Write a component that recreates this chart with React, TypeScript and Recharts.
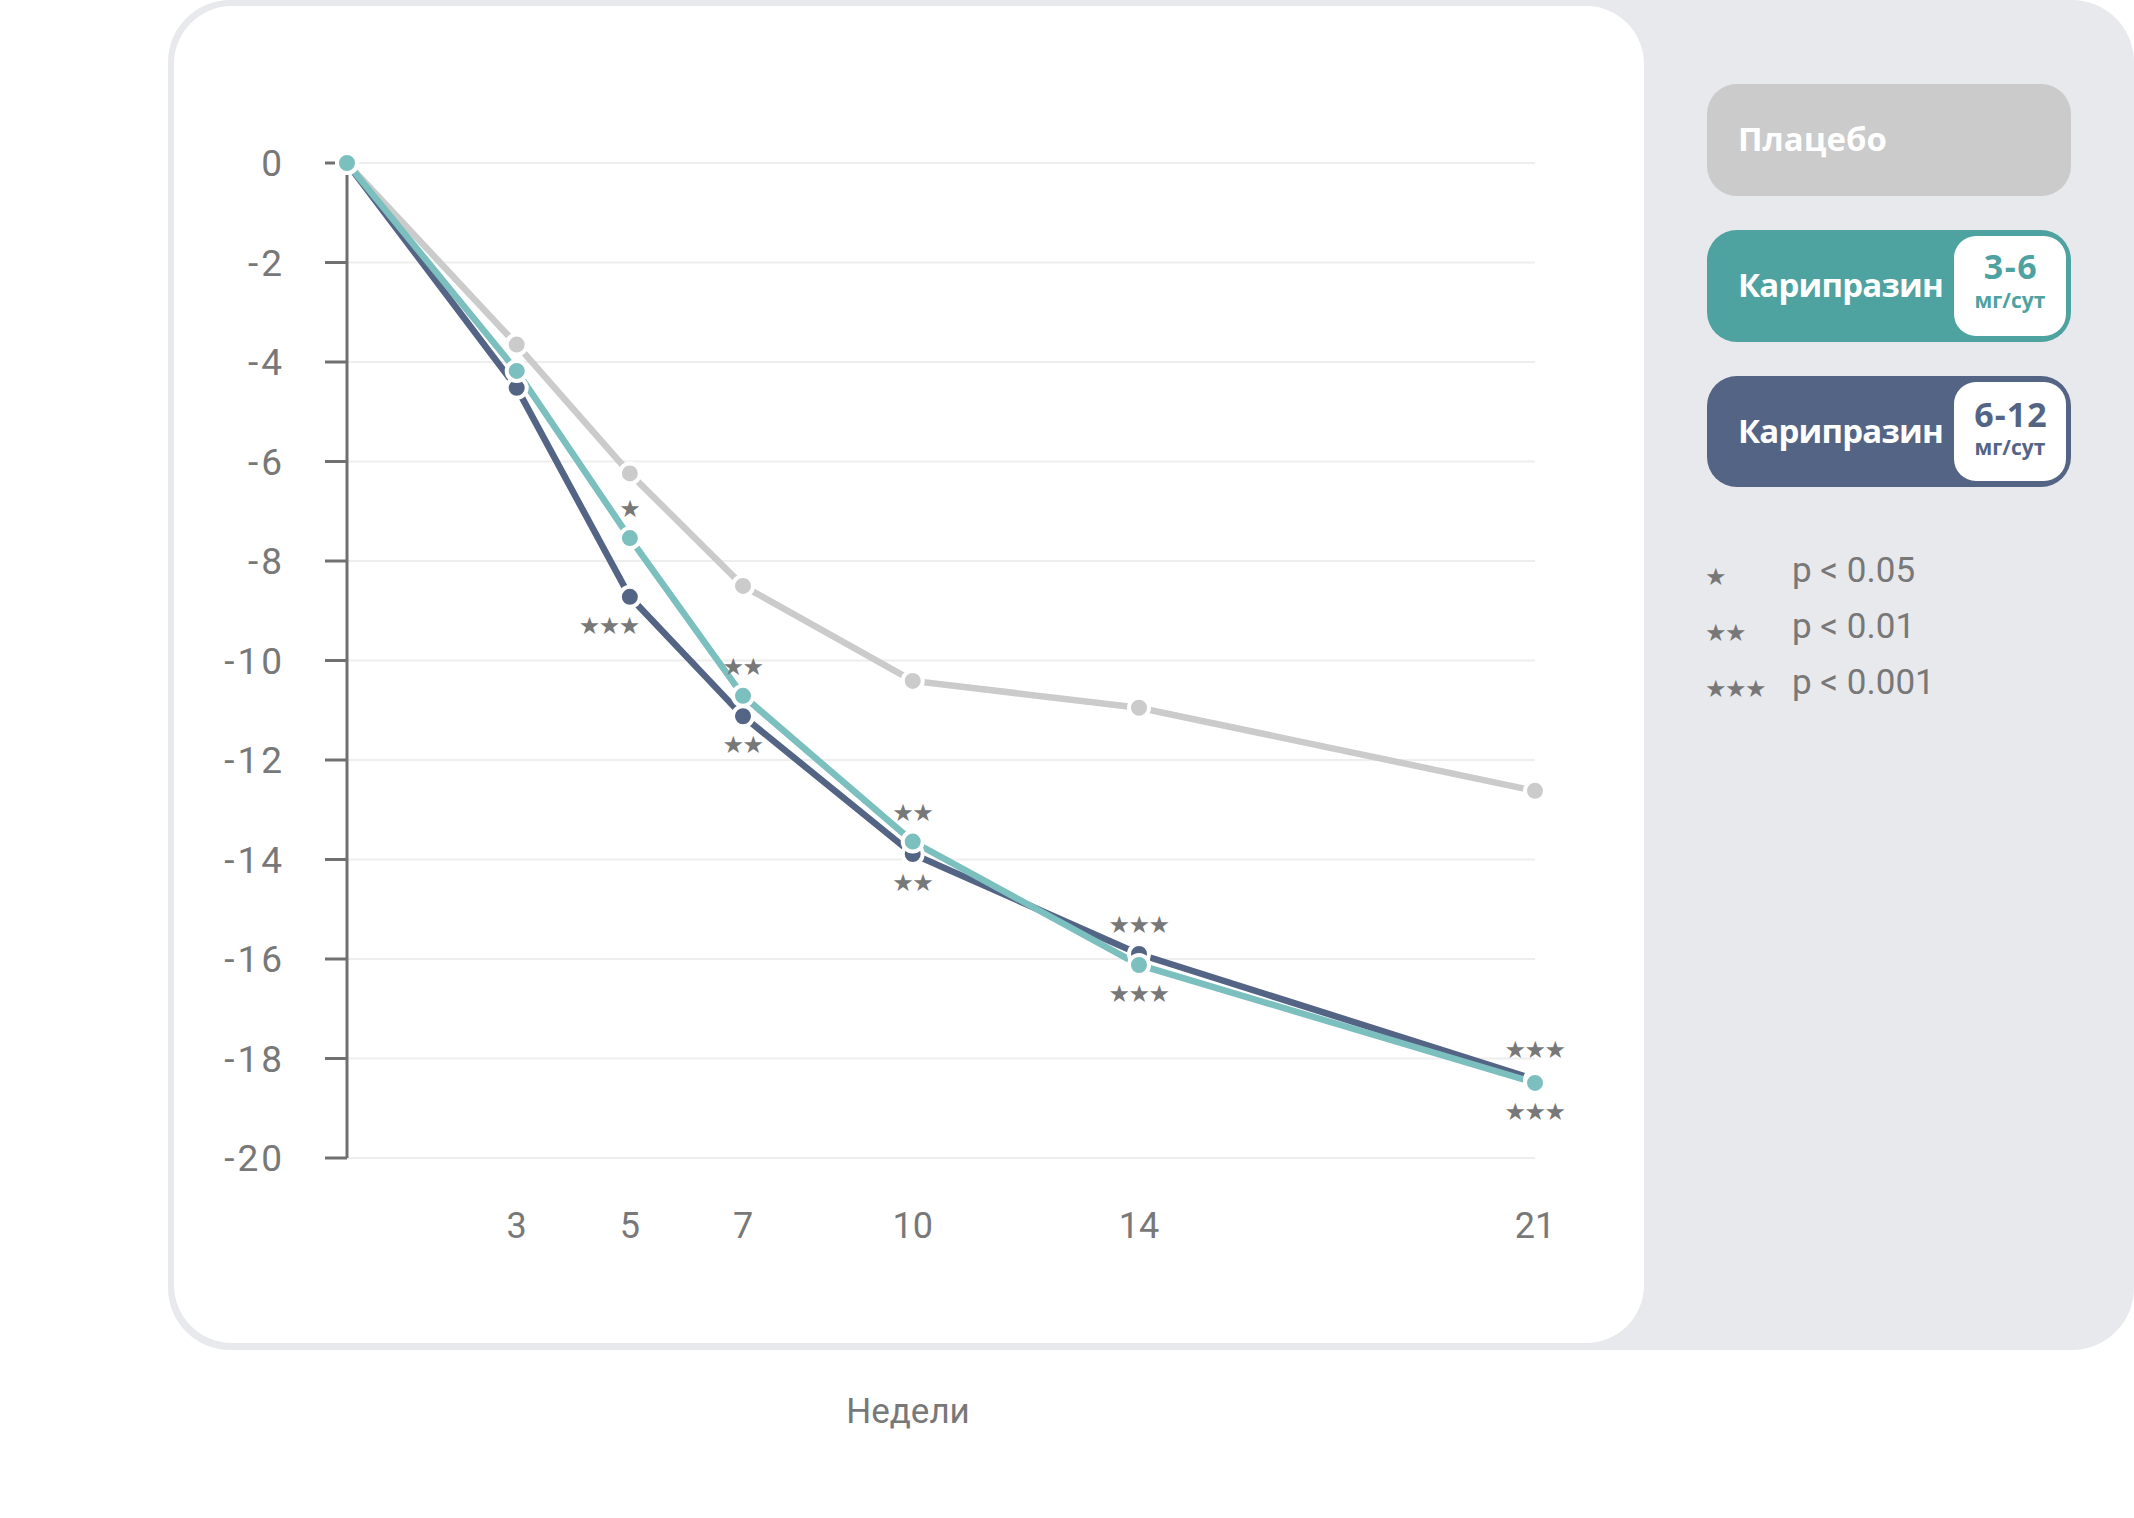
import React from 'react';
import { LineChart, Line, XAxis, YAxis, CartesianGrid } from 'recharts';

// ---- data ----
const weeks = [0, 3, 5, 7, 10, 14, 21];
const placebo = [0, -3.65, -6.24, -8.5, -10.41, -10.95, -12.62];
const cariprazine36 = [0, -4.18, -7.54, -10.71, -13.64, -16.12, -18.49];
const cariprazine612 = [0, -4.52, -8.72, -11.12, -13.89, -15.9, -18.42];
const sig36 = ['', '', '★', '★★', '★★', '★★★', '★★★'];
const sig612 = ['', '', '★★★', '★★', '★★', '★★★', '★★★'];
// -1 = above the point, 1 = below
const sig36Side = [0, 0, -1, -1, -1, 1, 1];
const sig612Side = [0, 0, 1, 1, 1, -1, -1];
const sig612Align = ['middle', 'middle', 'end', 'middle', 'middle', 'middle', 'middle'];
const sig36Align = ['middle', 'middle', 'middle', 'middle', 'middle', 'middle', 'middle'];
const xTicks = [3, 5, 7, 10, 14, 21];
const yTicks = [0, -2, -4, -6, -8, -10, -12, -14, -16, -18, -20];
const xLabel = 'Недели';
const legendPlacebo = 'Плацебо';
const legendDrug = 'Карипразин';
const dose36 = '3-6';
const dose612 = '6-12';
const doseUnit = 'мг/сут';
const pStars = ['★', '★★', '★★★'];
const pTexts = ['p < 0.05', 'p < 0.01', 'p < 0.001'];

const data = weeks.map((w, i) => ({
  week: w,
  placebo: placebo[i],
  c36: cariprazine36[i],
  c612: cariprazine612[i],
}));

const C_PLACEBO = '#cbcbcb';
const C_TEAL = '#7bbfbe';
const C_TEAL_DARK = '#4ea29f';
const C_NAVY = '#546485';
const C_TEXT = '#787878';
const C_AXIS = '#707070';

const STAR_FS = 24;
const STAR_LS = -1.5;

const makeDot = (color: string, stars?: string[], sides?: number[], aligns?: string[]) => (p: any) => {
  const { cx, cy, index } = p;
  const s = stars ? stars[index] : '';
  const side = sides ? sides[index] : 0;
  const align = aligns ? aligns[index] : 'middle';
  return (
    <g key={`d-${color}-${index}`}>
      <circle cx={cx} cy={cy} r={10} fill={color} stroke="#ffffff" strokeWidth={4} />
      {s ? (
        <text
          x={cx + (align === 'end' ? 9 : -0.5)}
          y={cy + side * 29}
          textAnchor={align as any}
          dominantBaseline="central"
          fontFamily="DejaVu Sans"
          fontSize={STAR_FS}
          letterSpacing={STAR_LS}
          fill={C_TEXT}
        >
          {s}
        </text>
      ) : null}
    </g>
  );
};

const yTickStyle = { fontFamily: 'Roboto', fontWeight: 400, fontSize: 37, fill: C_TEXT, letterSpacing: 3 };
const xTickStyle = { fontFamily: 'Roboto', fontWeight: 400, fontSize: 36, fill: C_TEXT };

export default function App() {
  return (
    <div style={{ position: 'absolute', left: 0, top: 0, width: 2134, height: 1518, background: '#ffffff', overflow: 'hidden' }}>
      <div style={{ position: 'absolute', left: 168, top: 0, width: 1966, height: 1350, borderRadius: 62, background: '#e8e9ed' }} />
      <div style={{ position: 'absolute', left: 174, top: 6, width: 1470, height: 1337, borderRadius: 58, background: '#ffffff' }} />
      <div style={{ position: 'absolute', left: 0, top: 0 }}>
        <LineChart width={2134} height={1518} data={data} margin={{ top: 163, right: 599, bottom: 120, left: 200 }}>
          <CartesianGrid horizontal vertical={false} stroke="#eeeeee" strokeWidth={2} />
          <XAxis
            dataKey="week"
            type="number"
            domain={[0, 21]}
            ticks={xTicks}
            axisLine={false}
            tickLine={false}
            tickSize={0}
            tickMargin={54}
            height={240}
            tick={xTickStyle}
            interval={0}
          />
          <YAxis
            type="number"
            domain={[-20, 0]}
            ticks={yTicks}
            width={147}
            axisLine={{ stroke: C_AXIS, strokeWidth: 3 }}
            tickLine={{ stroke: C_AXIS, strokeWidth: 3 }}
            tickSize={22}
            tickMargin={40}
            tick={yTickStyle}
            interval={0}
          />
          <Line
            dataKey="placebo"
            stroke={C_PLACEBO}
            strokeWidth={6.5}
            dot={makeDot(C_PLACEBO)}
            activeDot={false}
            isAnimationActive={false}
          />
          <Line
            dataKey="c612"
            stroke={C_NAVY}
            strokeWidth={6.5}
            dot={makeDot(C_NAVY, sig612, sig612Side, sig612Align)}
            activeDot={false}
            isAnimationActive={false}
          />
          <Line
            dataKey="c36"
            stroke={C_TEAL}
            strokeWidth={6.5}
            dot={makeDot(C_TEAL, sig36, sig36Side, sig36Align)}
            activeDot={false}
            isAnimationActive={false}
          />
        </LineChart>
      </div>
      <svg width={2134} height={1518} style={{ position: 'absolute', left: 0, top: 0, pointerEvents: 'none' }}>
        <text x={908} y={1423} textAnchor="middle" fontFamily="Roboto" fontWeight={400} fontSize={35} fill={C_TEXT}>
          {xLabel}
        </text>
        {/* legend boxes */}
        <rect x={1707} y={84} width={364} height={112} rx={30} fill={C_PLACEBO} />
        <text x={1738} y={151} fontFamily="Open Sans" fontWeight={700} fontSize={33} fill="#ffffff">
          {legendPlacebo}
        </text>

        <rect x={1707} y={230} width={364} height={112} rx={30} fill={C_TEAL_DARK} />
        <rect x={1954} y={236} width={112} height={100} rx={22} fill="#ffffff" />
        <text x={1738} y={297} fontFamily="Open Sans" fontWeight={700} fontSize={33} letterSpacing={-0.8} fill="#ffffff">
          {legendDrug}
        </text>
        <text x={2011} y={279} textAnchor="middle" fontFamily="Open Sans" fontWeight={700} fontSize={34} letterSpacing={1.5} fill={C_TEAL_DARK}>
          {dose36}
        </text>
        <text x={2010} y={308} textAnchor="middle" fontFamily="Open Sans" fontWeight={700} fontSize={21} fill={C_TEAL_DARK}>
          {doseUnit}
        </text>

        <rect x={1707} y={376} width={364} height={111} rx={30} fill={C_NAVY} />
        <rect x={1954} y={382} width={112} height={99} rx={22} fill="#ffffff" />
        <text x={1738} y={443} fontFamily="Open Sans" fontWeight={700} fontSize={33} letterSpacing={-0.8} fill="#ffffff">
          {legendDrug}
        </text>
        <text x={2011} y={427} textAnchor="middle" fontFamily="Open Sans" fontWeight={700} fontSize={34} letterSpacing={1} fill={C_NAVY}>
          {dose612}
        </text>
        <text x={2010} y={455} textAnchor="middle" fontFamily="Open Sans" fontWeight={700} fontSize={21} fill={C_NAVY}>
          {doseUnit}
        </text>

        {pTexts.map((t, i) => (
          <g key={t}>
            <text x={1705} y={585 + i * 56} fontFamily="DejaVu Sans" fontSize={STAR_FS} letterSpacing={STAR_LS} fill={C_TEXT}>
              {pStars[i]}
            </text>
            <text x={1792} y={582 + i * 56} fontFamily="Roboto" fontWeight={400} fontSize={35} fill={C_TEXT}>
              {t}
            </text>
          </g>
        ))}
      </svg>
    </div>
  );
}
